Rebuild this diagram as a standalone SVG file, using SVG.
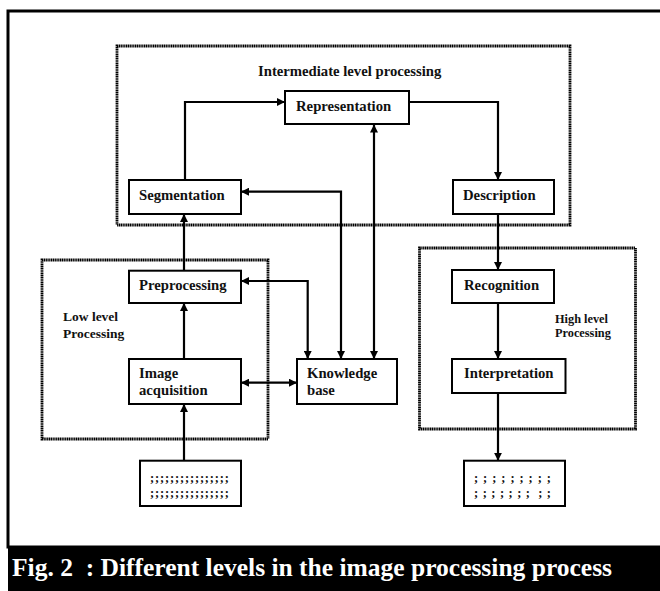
<svg xmlns="http://www.w3.org/2000/svg" width="660" height="591" viewBox="0 0 660 591">
<style>
.box{fill:#fff;stroke:#000;stroke-width:2}
.grp{fill:none;stroke:#000;stroke-width:2.8;stroke-dasharray:1.3 0.5}
.t{font-family:"Liberation Serif","Times New Roman",serif;font-weight:bold;font-size:14.7px;fill:#111}
.s{font-family:"Liberation Serif","Times New Roman",serif;font-weight:bold;fill:#111;white-space:pre}
.c{fill:none;stroke:#000;stroke-width:2.2}
.cap{font-family:"Liberation Serif","Times New Roman",serif;font-weight:bold;font-size:25px;fill:#fff;white-space:pre}
</style>
<defs>
<marker id="ah" viewBox="0 0 10 10" refX="10" refY="5" markerWidth="8" markerHeight="8" markerUnits="userSpaceOnUse" orient="auto-start-reverse">
<path d="M0,0 L10,5 L0,10 z" fill="#000"/>
</marker>
</defs>
<rect width="660" height="591" fill="#fff"/>
<rect x="8" y="11" width="660" height="536" fill="none" stroke="#000" stroke-width="3"/>
<rect x="8" y="548" width="660" height="43" fill="#000"/>
<text class="cap" x="12" y="576" xml:space="preserve" textLength="600" lengthAdjust="spacingAndGlyphs">Fig. 2  : Different levels in the image processing process</text>

<g id="group-intermediate">
<rect class="grp" x="117" y="46" width="453" height="179"/>
<text class="t" x="258" y="76">Intermediate level processing</text>
</g>
<g id="group-low">
<rect class="grp" x="42" y="260" width="226" height="179"/>
<text class="s" x="63" y="321" font-size="13.5">Low level</text>
<text class="s" x="63" y="338" font-size="13.5">Processing</text>
</g>
<g id="group-high">
<rect class="grp" x="419.5" y="248" width="216" height="181"/>
<text class="s" x="555" y="323" font-size="12.3">High level</text>
<text class="s" x="555" y="337" font-size="12.3">Processing</text>
</g>

<g id="connectors">
<path class="c" d="M185 180 V102 H285" marker-end="url(#ah)"/>
<path class="c" d="M409 102 H498 V180" marker-end="url(#ah)"/>
<path class="c" d="M374 359 V124.5" marker-start="url(#ah)" marker-end="url(#ah)"/>
<path class="c" d="M341 359 V191.7 H241" marker-start="url(#ah)" marker-end="url(#ah)"/>
<path class="c" d="M241 281 H307.7 V359" marker-start="url(#ah)" marker-end="url(#ah)"/>
<path class="c" d="M241 382.7 H297" marker-start="url(#ah)" marker-end="url(#ah)"/>
<path class="c" d="M184 270.7 V214" marker-end="url(#ah)"/>
<path class="c" d="M184 359 V303" marker-end="url(#ah)"/>
<path class="c" d="M184 460.7 V404" marker-end="url(#ah)"/>
<path class="c" d="M498 214 V270" marker-end="url(#ah)"/>
<path class="c" d="M498 303 V359" marker-end="url(#ah)"/>
<path class="c" d="M498 393 V460.7" marker-end="url(#ah)"/>
</g>

<g id="representation">
<rect class="box" x="285" y="91" width="124" height="33"/>
<text class="t" x="296" y="111">Representation</text>
</g>
<g id="segmentation">
<rect class="box" x="129" y="180" width="112" height="34"/>
<text class="t" x="139" y="200">Segmentation</text>
</g>
<g id="description">
<rect class="box" x="453" y="180" width="101" height="34"/>
<text class="t" x="463" y="200">Description</text>
</g>
<g id="preprocessing">
<rect class="box" x="129" y="270.7" width="112" height="32.3"/>
<text class="t" x="139" y="289.5">Preprocessing</text>
</g>
<g id="image-acquisition">
<rect class="box" x="129" y="359" width="112" height="45"/>
<text class="t" x="139" y="378">Image</text>
<text class="t" x="139" y="395">acquisition</text>
</g>
<g id="knowledge-base">
<rect class="box" x="297" y="359" width="100" height="45"/>
<text class="t" x="307" y="378">Knowledge</text>
<text class="t" x="307" y="395">base</text>
</g>
<g id="recognition">
<rect class="box" x="452" y="270" width="102" height="33"/>
<text class="t" x="464" y="289.5">Recognition</text>
</g>
<g id="interpretation">
<rect class="box" x="452" y="359" width="113.5" height="34"/>
<text class="t" x="464" y="378">Interpretation</text>
</g>
<g id="input">
<rect class="box" x="140" y="460.7" width="101" height="45.3"/>
<text class="s" x="150" y="481.5" font-size="12.5" textLength="79" lengthAdjust="spacing">;;;;;;;;;;;;;;;;</text>
<text class="s" x="150" y="496.5" font-size="12.5" textLength="79" lengthAdjust="spacing">;;;;;;;;;;;;;;;;</text>
</g>
<g id="output">
<rect class="box" x="464" y="460.7" width="101" height="45.3"/>
<text class="s" x="474" y="481.5" font-size="12.5" textLength="77" lengthAdjust="spacing" xml:space="preserve">; ; ; ; ; ; ; ; ;</text>
<text class="s" x="474" y="496.5" font-size="12.5" textLength="77" lengthAdjust="spacing" xml:space="preserve">; ; ; ; ; ; ;  ; ;</text>
</g>
</svg>
